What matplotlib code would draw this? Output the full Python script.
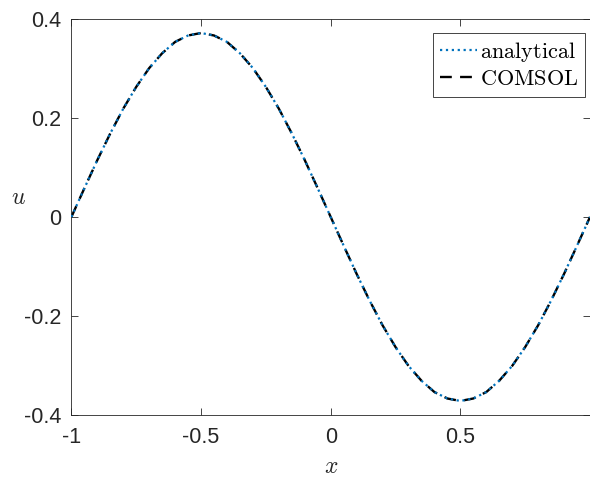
import numpy as np
import matplotlib.pyplot as plt

plt.rcParams['mathtext.fontset'] = 'cm'
plt.rcParams['font.family'] = ['Liberation Sans', 'DejaVu Sans']

# values
x = [-1.0, -0.95, -0.9, -0.85, -0.8, -0.75, -0.7, -0.65, -0.6, -0.55, -0.5,
     -0.45, -0.4, -0.35, -0.3, -0.25, -0.2, -0.15, -0.1, -0.05, 0.0,
     0.05, 0.1, 0.15, 0.2, 0.25, 0.3, 0.35, 0.4, 0.45, 0.5,
     0.55, 0.6, 0.65, 0.7, 0.75, 0.8, 0.85, 0.9, 0.95, 1.0]
u_pos = [0.0, 0.058, 0.115, 0.169, 0.219, 0.263, 0.301, 0.331, 0.354, 0.367, 0.372,
         0.367, 0.354, 0.331, 0.301, 0.263, 0.219, 0.169, 0.115, 0.058, 0.0]
u_analytical = u_pos + [-v for v in u_pos[-2::-1]]
u_comsol = list(u_analytical)

fig = plt.figure(figsize=(5.9, 4.79), dpi=100)
ax = fig.add_axes([0.121, 0.134, 0.879, 0.826])

ax.plot(x, u_comsol, '--', color='black', lw=1.7, dashes=(5, 3.5), label=r'$\mathrm{COMSOL}$', zorder=2)
ax.plot(x, u_analytical, ':', color='#0072BD', lw=1.6, label=r'$\mathrm{analytical}$', zorder=3)

ax.set_xlim(-1, 1)
ax.set_ylim(-0.4, 0.4)
ax.set_xticks([-1, -0.5, 0, 0.5])
ax.set_xticklabels(['-1', '-0.5', '0', '0.5'])
ax.set_yticks([-0.4, -0.2, 0, 0.2, 0.4])
ax.set_yticklabels(['-0.4', '-0.2', '0', '0.2', '0.4'])
ax.tick_params(direction='in', top=True, right=True, labelsize=15.5, colors='#262626', length=5, width=0.6)
ax.tick_params(axis='x', pad=9)
ax.tick_params(axis='y', pad=7)
for sp in ax.spines.values():
    sp.set_color('#262626')
    sp.set_linewidth(0.6)

ax.set_xlabel(r'$x$', fontsize=17, color='#262626')
ax.set_ylabel(r'$u$', fontsize=17, color='#262626', rotation=0)
ax.xaxis.set_label_coords(0.5, -0.105)
ax.yaxis.set_label_coords(-0.102, 0.52)

h, l = ax.get_legend_handles_labels()
leg = ax.legend(h[::-1], l[::-1], loc='upper right', bbox_to_anchor=(0.99, 0.965), fontsize=16,
                frameon=True, fancybox=False, edgecolor='#262626', framealpha=1,
                handlelength=1.65, handletextpad=0.15, borderpad=0.3, labelspacing=0.25,
                borderaxespad=0)
leg.get_frame().set_linewidth(0.6)

fig.savefig('out.png', dpi=100)
